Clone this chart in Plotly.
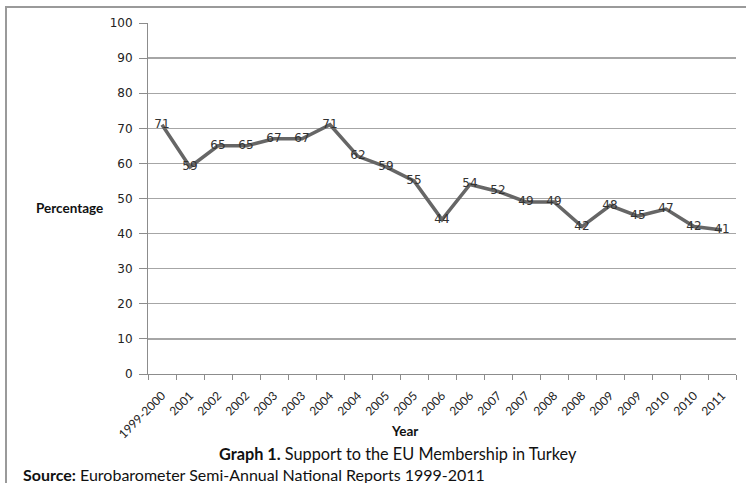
import plotly.graph_objects as go

years = ["1999-2000", "2001", "2002", "2002", "2003", "2003", "2004", "2004",
         "2005", "2005", "2006", "2006", "2007", "2007", "2008", "2008",
         "2009", "2009", "2010", "2010", "2011"]
support = [71, 59, 65, 65, 67, 67, 71, 62, 59, 55, 44, 54, 52, 49, 49, 42,
           48, 45, 47, 42, 41]
y_ticks = [0, 10, 20, 30, 40, 50, 60, 70, 80, 90, 100]

idx = list(range(len(years)))

fig = go.Figure()
fig.add_trace(go.Scatter(
    x=idx, y=support, mode="lines+text",
    text=[str(v) for v in support], textposition="middle center",
    textfont=dict(family="DejaVu Sans", size=12, color="#333333"),
    line=dict(color="#666666", width=3.5),
    hoverinfo="skip", showlegend=False,
))

W, H = 746, 483
L, R, T, B = 148, 10, 23, 109
pw, ph = W - L - R, H - T - B

def px(x):
    return (x - L) / pw

def py(y):
    return (H - B - y) / ph

fig.update_layout(
    width=W, height=H,
    margin=dict(l=L, r=R, t=T, b=B, autoexpand=False),
    paper_bgcolor="white", plot_bgcolor="white",
    font=dict(family="DejaVu Sans", color="#222222"),
    xaxis=dict(
        range=[-0.5, len(years) - 0.5], automargin=False,
        tickmode="array", tickvals=idx, ticktext=years,
        tickangle=-45, tickfont=dict(size=12, family="Lato", color="#222222"),
        ticks="outside", ticklen=9, tickcolor="rgba(0,0,0,0)",
        showgrid=False, zeroline=False,
        showline=True, linecolor="#8c8c8c", linewidth=1,
        minor=dict(tickmode="array", tickvals=[i - 0.5 for i in range(len(years) + 1)],
                   ticks="outside", ticklen=5, tickcolor="#8c8c8c", showgrid=False),
        fixedrange=True,
    ),
    yaxis=dict(
        range=[0, 100], tickmode="array", tickvals=y_ticks, automargin=False,
        tickfont=dict(size=12, family="DejaVu Sans", color="#222222"),
        ticks="outside", ticklen=8, tickcolor="#8c8c8c", ticklabelstandoff=4,
        showgrid=True, gridcolor="#a6a6a6", gridwidth=1.3,
        zeroline=False, showline=True, linecolor="#8c8c8c", linewidth=1,
        fixedrange=True,
    ),
    shapes=[
        dict(type="rect", xref="paper", yref="paper", layer="above",
             x0=px(6), x1=px(780), y0=py(520), y1=py(7),
             line=dict(color="#9a9a9a", width=2), fillcolor="rgba(0,0,0,0)"),
    ],
    annotations=[
        dict(text="<b>Percentage</b>", xref="paper", yref="paper",
             x=px(69), y=py(208), xanchor="center", yanchor="middle",
             showarrow=False, font=dict(family="Lato", size=13.5, color="#111111")),
        dict(text="<b>Year</b>", xref="paper", yref="paper",
             x=px(404), y=py(431), xanchor="center", yanchor="middle",
             showarrow=False, font=dict(family="Lato", size=13.5, color="#111111")),
        dict(text="<b>Graph 1.</b> Support to the EU Membership in Turkey",
             xref="paper", yref="paper",
             x=px(398), y=py(453), xanchor="center", yanchor="middle",
             showarrow=False, font=dict(family="Lato", size=16.3, color="#111111")),
        dict(text="<b>Source:</b> Eurobarometer Semi-Annual National Reports 1999-2011",
             xref="paper", yref="paper",
             x=px(21), y=py(474), xanchor="left", yanchor="middle",
             showarrow=False, font=dict(family="Lato", size=16, color="#111111")),
    ],
)

fig.write_html("out.html", config={"displayModeBar": False, "staticPlot": True})

with open("out.html", "r", encoding="utf-8") as f:
    html = f.read()
html = html.replace("<head>", "<head><style>html,body{margin:0;padding:0;overflow:hidden;}</style>", 1)
with open("out.html", "w", encoding="utf-8") as f:
    f.write(html)
